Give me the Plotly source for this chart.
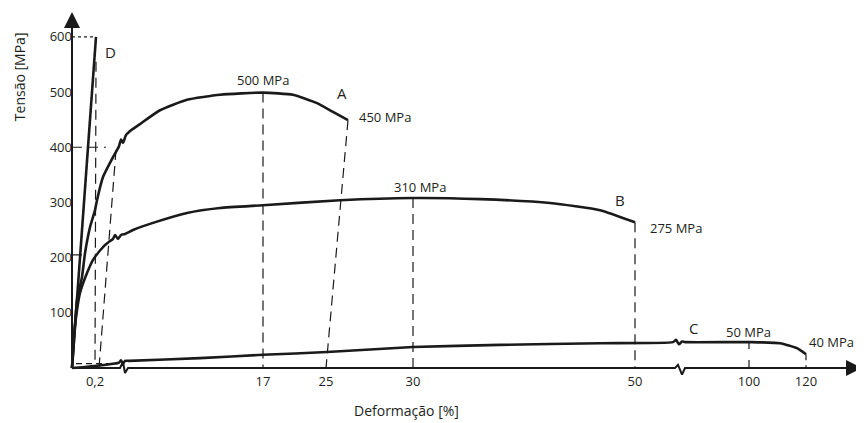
import plotly.graph_objects as go

# ---------------- data (schematic axis positions / stress in MPa) ----------------
# x values are positions along the drawn (broken) strain axis; labels below give the strain in %
tick_pos = [23, 191, 254, 341, 563, 677, 734]
tick_text = ["0,2", "17", "25", "30", "50", "100", "120"]
y_ticks = [100, 200, 300, 400, 500, 600]

# Curve A (yields ~400, peak 500 MPa at 17 %, breaks at 450 MPa at 25 %)
a_x = [0, 2, 5, 10, 13, 18, 23, 25, 31, 41, 47, 49, 51, 54, 60, 68, 88, 115, 148, 191, 221, 245, 261, 276]
a_y = [0, 51, 123, 165, 208, 255, 286, 304, 346, 382, 402, 414, 408, 422, 432, 442, 467, 486, 495, 499, 495, 480, 464, 449]

# Curve B (peak 310 MPa at 30 %, breaks at 275 MPa at 50 %)
b_x = [0, 2, 5, 8, 15, 21, 31, 38, 41, 43, 46, 49, 53, 61, 81, 115, 148, 191, 268, 341, 408, 478, 528, 563]
b_y = [0, 60, 105, 136, 172, 196, 219, 230, 234, 241, 234, 241, 243, 250, 263, 281, 290, 295, 304, 308, 306, 299, 286, 264]

# Curve C (peak 50 MPa at 100 %, breaks at 40 MPa at 120 %)
c_x = [0, 47, 49, 51, 53, 57, 128, 191, 255, 341, 428, 528, 601, 604, 607, 610, 613, 678, 708, 725, 734]
c_y = [0, 10, 14, 8, 13, 13, 18, 24, 29, 38, 42, 45, 47, 51, 43, 48, 47, 47, 45, 36, 25]

# Curve D (brittle, 600 MPa)
d_x = [0, 24]
d_y = [0, 600]

# broken x axis
axis_x = [0, 48, 51, 53, 56, 603, 606, 610, 613, 785]
axis_y = [0, 0, 11, -9, 0, 0, 6, -12, 0, 0]

INK = "#1a1a1a"
TXT = "#231f20"
FONT = "Open Sans"

fig = go.Figure()

def line(x, y, width=2.6, dash=None, shape="spline", color=INK):
    fig.add_trace(go.Scatter(
        x=x, y=y, mode="lines", hoverinfo="skip", showlegend=False,
        line=dict(color=color, width=width, dash=dash, shape=shape,
                  smoothing=0.5 if shape == "spline" else None)))

DASH = "10px,6px"

# guide lines (dashed)
line([0, d_x[1]], [d_y[1], d_y[1]], width=1.2, dash="3px,3px", shape="linear")  # 600 dotted
line([24, 23], [555, 0], width=1.2, dash=DASH, shape="linear")                    # 0,2 %
line([44, 27], [395, 0], width=1.2, dash=DASH, shape="linear")                    # offset line
line([0, 34], [400, 400], width=1.2, dash=DASH, shape="linear")                   # 400 MPa
line([0, 10], [205, 205], width=1.2, shape="linear")                              # short mark
line([4, 46], [8, 8], width=1.2, dash="6px,4px", shape="linear")                  # bottom
line([a_x[19], tick_pos[1]], [a_y[19], 0], width=1.2, dash=DASH, shape="linear")  # 17
line([a_x[-1], tick_pos[2]], [a_y[-1], 0], width=1.2, dash=DASH, shape="linear")  # 25
line([b_x[19], tick_pos[3]], [b_y[19], 0], width=1.2, dash=DASH, shape="linear")  # 30
line([b_x[-1], tick_pos[4]], [b_y[-1], 0], width=1.2, dash=DASH, shape="linear")  # 50
line([tick_pos[5], tick_pos[5]], [c_y[17], 0], width=1.2, dash="7px,11px", shape="linear")  # 100
line([c_x[-1], tick_pos[6]], [c_y[-1], 0], width=1.2, dash="6px,5px", shape="linear")       # 120

# curves
line(a_x, a_y)
line(b_x, b_y)
line(c_x, c_y)
line(d_x, d_y, shape="linear")

# axes
line(axis_x, axis_y, width=2, shape="linear")
line([0, 0], [0, 630], width=2, shape="linear")

ann = []
# arrow heads
ann.append(dict(x=790, y=0, ax=766, ay=0, xref="x", yref="y", axref="x", ayref="y",
                text="", showarrow=True, arrowhead=2, arrowsize=1.6, arrowwidth=2, arrowcolor=INK))
ann.append(dict(x=0, y=645, ax=0, ay=605, xref="x", yref="y", axref="x", ayref="y",
                text="", showarrow=True, arrowhead=2, arrowsize=1.6, arrowwidth=2, arrowcolor=INK))

def label(x, y, text, size=13, xanchor="center"):
    ann.append(dict(x=x, y=y, xref="x", yref="y", text=text, showarrow=False,
                    xanchor=xanchor, yanchor="middle", font=dict(family=FONT, size=size, color=TXT)))

label(38, 572, "D", size=15)
label(191, 522, "500 MPa")
label(270, 498, "A", size=15)
label(285, 455, "450 MPa", xanchor="left")
label(348, 328, "310 MPa")
label(548, 304, "B", size=15)
label(576, 254, "275 MPa", xanchor="left")
label(621, 72, "C", size=15)
label(676, 65, "50 MPa")
label(735, 47, "40 MPa", xanchor="left")

# layout geometry: origin at page pixel (72, 368); page body has an 8px margin
y_lo, y_hi = -14.4, 645
x_lo, x_hi = -10, 790

def px(u):
    return (u - x_lo) / (x_hi - x_lo)

def py(v):
    return (v - y_lo) / (y_hi - y_lo)

ann.append(dict(x=px(334), y=py(-76), xref="paper", yref="paper", text="Deformação [%]",
                xanchor="center", yanchor="middle",
                showarrow=False, font=dict(family=FONT, size=14, color=TXT)))
ann.append(dict(x=px(-53), y=py(527), xref="paper", yref="paper", text="Tensão [MPa]",
                xanchor="center", yanchor="middle", borderpad=0,
                showarrow=False, textangle=-90, font=dict(family=FONT, size=14, color=TXT)))

fig.update_layout(
    width=856, height=415,
    margin=dict(l=54, r=2, t=4, b=47),
    plot_bgcolor="white", paper_bgcolor="white",
    annotations=ann,
    xaxis=dict(range=[x_lo, x_hi], showgrid=False, zeroline=False, showline=False,
               tickvals=tick_pos, ticktext=tick_text, ticks="", ticklabelstandoff=4,
               anchor="free", position=py(0),
               tickfont=dict(family=FONT, size=13, color=TXT), fixedrange=True),
    yaxis=dict(range=[y_lo, y_hi], showgrid=False, zeroline=False, showline=False,
               tickvals=y_ticks, ticks="", anchor="free", position=px(0),
               tickfont=dict(family=FONT, size=13, color=TXT), fixedrange=True),
)

fig.write_html("out.html")
